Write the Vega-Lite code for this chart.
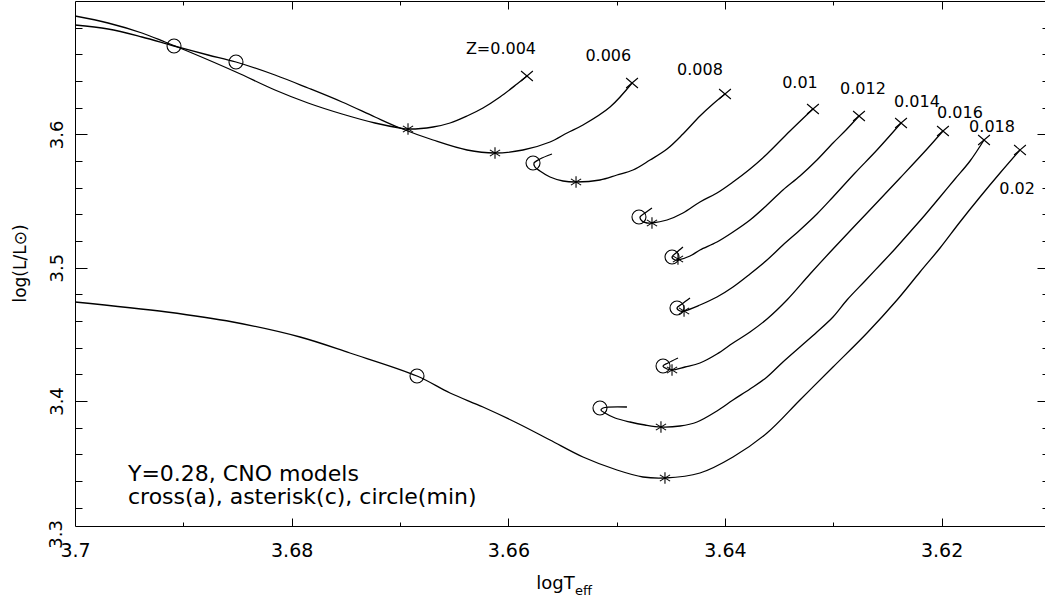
{
  "$schema": "https://vega.github.io/schema/vega-lite/v6.json",
  "width": 970,
  "height": 525,
  "autosize": {"type": "none"},
  "padding": {"left": 75, "top": 1, "right": 0, "bottom": 80},
  "background": "white",
  "config": {
    "view": {"stroke": null},
    "font": "DejaVu Sans",
    "axis": {"grid": false, "domainColor": "black", "tickColor": "black", "labelColor": "black", "titleColor": "black", "labelFont": "DejaVu Sans", "titleFont": "DejaVu Sans"}
  },
  "resolve": {"scale": {"x": "independent", "y": "independent"}, "axis": {"x": "independent", "y": "independent"}},
  "layer": [
    {
      "data": {"values": [
      {"z":"0.004","i":0,"x":3.7,"y":3.68875},{"z":"0.004","i":1,"x":3.69695,"y":3.6835},{"z":"0.004","i":2,"x":3.69382,"y":3.676},{"z":"0.004","i":3,"x":3.69169,"y":3.66925},{"z":"0.004","i":4,"x":3.6892,"y":3.661},{"z":"0.004","i":5,"x":3.68514,"y":3.64675},{"z":"0.004","i":6,"x":3.68154,"y":3.63325},{"z":"0.004","i":7,"x":3.67849,"y":3.6235},{"z":"0.004","i":8,"x":3.67535,"y":3.61525},{"z":"0.004","i":9,"x":3.67231,"y":3.6085},{"z":"0.004","i":10,"x":3.67,"y":3.60475},{"z":"0.004","i":11,"x":3.66926,"y":3.604},{"z":"0.004","i":12,"x":3.66695,"y":3.6055},{"z":"0.004","i":13,"x":3.66538,"y":3.6085},{"z":"0.004","i":14,"x":3.66381,"y":3.61375},{"z":"0.004","i":15,"x":3.66234,"y":3.61975},{"z":"0.004","i":16,"x":3.66077,"y":3.628},{"z":"0.004","i":17,"x":3.6592,"y":3.63775},{"z":"0.004","i":18,"x":3.65828,"y":3.64375},
      {"z":"0.006","i":0,"x":3.7,"y":3.682},{"z":"0.006","i":1,"x":3.69695,"y":3.679},{"z":"0.006","i":2,"x":3.69382,"y":3.673},{"z":"0.006","i":3,"x":3.69086,"y":3.66625},{"z":"0.006","i":4,"x":3.68772,"y":3.6595},{"z":"0.006","i":5,"x":3.68514,"y":3.65425},{"z":"0.006","i":6,"x":3.68154,"y":3.6445},{"z":"0.006","i":7,"x":3.67849,"y":3.63475},{"z":"0.006","i":8,"x":3.67535,"y":3.62425},{"z":"0.006","i":9,"x":3.67231,"y":3.613},{"z":"0.006","i":10,"x":3.67,"y":3.60475},{"z":"0.006","i":11,"x":3.66695,"y":3.59575},{"z":"0.006","i":12,"x":3.66381,"y":3.58825},{"z":"0.006","i":13,"x":3.66123,"y":3.586},{"z":"0.006","i":14,"x":3.65865,"y":3.58825},{"z":"0.006","i":15,"x":3.65615,"y":3.59425},{"z":"0.006","i":16,"x":3.65458,"y":3.601},{"z":"0.006","i":17,"x":3.65311,"y":3.607},{"z":"0.006","i":18,"x":3.65061,"y":3.6205},{"z":"0.006","i":19,"x":3.64858,"y":3.6385},
      {"z":"0.008","i":0,"x":3.65597,"y":3.58525},{"z":"0.008","i":1,"x":3.65708,"y":3.5815},{"z":"0.008","i":2,"x":3.65763,"y":3.5785},{"z":"0.008","i":3,"x":3.65754,"y":3.5755},{"z":"0.008","i":4,"x":3.65708,"y":3.5725},{"z":"0.008","i":5,"x":3.65615,"y":3.568},{"z":"0.008","i":6,"x":3.65495,"y":3.565},{"z":"0.008","i":7,"x":3.65375,"y":3.56425},{"z":"0.008","i":8,"x":3.65154,"y":3.56575},{"z":"0.008","i":9,"x":3.64997,"y":3.5695},{"z":"0.008","i":10,"x":3.64849,"y":3.57325},{"z":"0.008","i":11,"x":3.64692,"y":3.58075},{"z":"0.008","i":12,"x":3.64535,"y":3.589},{"z":"0.008","i":13,"x":3.64388,"y":3.60025},{"z":"0.008","i":14,"x":3.64231,"y":3.61375},{"z":"0.008","i":15,"x":3.64111,"y":3.62275},{"z":"0.008","i":16,"x":3.64,"y":3.63025},
      {"z":"0.01","i":0,"x":3.64674,"y":3.54475},{"z":"0.01","i":1,"x":3.64738,"y":3.541},{"z":"0.01","i":2,"x":3.64784,"y":3.538},{"z":"0.01","i":3,"x":3.64766,"y":3.535},{"z":"0.01","i":4,"x":3.6472,"y":3.5335},{"z":"0.01","i":5,"x":3.64674,"y":3.5335},{"z":"0.01","i":6,"x":3.64535,"y":3.53575},{"z":"0.01","i":7,"x":3.64388,"y":3.541},{"z":"0.01","i":8,"x":3.64231,"y":3.54925},{"z":"0.01","i":9,"x":3.64074,"y":3.556},{"z":"0.01","i":10,"x":3.63926,"y":3.56425},{"z":"0.01","i":11,"x":3.63769,"y":3.574},{"z":"0.01","i":12,"x":3.63612,"y":3.58525},{"z":"0.01","i":13,"x":3.634,"y":3.6025},{"z":"0.01","i":14,"x":3.63188,"y":3.619},
      {"z":"0.012","i":0,"x":3.64388,"y":3.5155},{"z":"0.012","i":1,"x":3.64452,"y":3.511},{"z":"0.012","i":2,"x":3.64489,"y":3.508},{"z":"0.012","i":3,"x":3.64461,"y":3.50575},{"z":"0.012","i":4,"x":3.64434,"y":3.50575},{"z":"0.012","i":5,"x":3.64323,"y":3.50875},{"z":"0.012","i":6,"x":3.64231,"y":3.51325},{"z":"0.012","i":7,"x":3.64074,"y":3.51925},{"z":"0.012","i":8,"x":3.63926,"y":3.52675},{"z":"0.012","i":9,"x":3.63769,"y":3.53575},{"z":"0.012","i":10,"x":3.63612,"y":3.547},{"z":"0.012","i":11,"x":3.63465,"y":3.55825},{"z":"0.012","i":12,"x":3.63308,"y":3.56875},{"z":"0.012","i":13,"x":3.63151,"y":3.58075},{"z":"0.012","i":14,"x":3.63003,"y":3.5935},{"z":"0.012","i":15,"x":3.62883,"y":3.60325},{"z":"0.012","i":16,"x":3.62763,"y":3.61375},
      {"z":"0.014","i":0,"x":3.64323,"y":3.47725},{"z":"0.014","i":1,"x":3.64397,"y":3.47275},{"z":"0.014","i":2,"x":3.64443,"y":3.46975},{"z":"0.014","i":3,"x":3.64415,"y":3.4675},{"z":"0.014","i":4,"x":3.64378,"y":3.4675},{"z":"0.014","i":5,"x":3.64231,"y":3.472},{"z":"0.014","i":6,"x":3.64074,"y":3.478},{"z":"0.014","i":7,"x":3.63926,"y":3.4855},{"z":"0.014","i":8,"x":3.63769,"y":3.49525},{"z":"0.014","i":9,"x":3.63612,"y":3.50575},{"z":"0.014","i":10,"x":3.63465,"y":3.517},{"z":"0.014","i":11,"x":3.63308,"y":3.52825},{"z":"0.014","i":12,"x":3.63151,"y":3.54025},{"z":"0.014","i":13,"x":3.63003,"y":3.553},{"z":"0.014","i":14,"x":3.628,"y":3.571},{"z":"0.014","i":15,"x":3.62597,"y":3.58825},{"z":"0.014","i":16,"x":3.62375,"y":3.6085},
      {"z":"0.016","i":0,"x":3.64434,"y":3.43225},{"z":"0.016","i":1,"x":3.64526,"y":3.4285},{"z":"0.016","i":2,"x":3.64572,"y":3.42625},{"z":"0.016","i":3,"x":3.64535,"y":3.424},{"z":"0.016","i":4,"x":3.64489,"y":3.42325},{"z":"0.016","i":5,"x":3.64369,"y":3.4255},{"z":"0.016","i":6,"x":3.64231,"y":3.4285},{"z":"0.016","i":7,"x":3.64074,"y":3.43525},{"z":"0.016","i":8,"x":3.63926,"y":3.4435},{"z":"0.016","i":9,"x":3.63769,"y":3.45175},{"z":"0.016","i":10,"x":3.63612,"y":3.4615},{"z":"0.016","i":11,"x":3.63428,"y":3.47575},{"z":"0.016","i":12,"x":3.63215,"y":3.49525},{"z":"0.016","i":13,"x":3.63003,"y":3.514},{"z":"0.016","i":14,"x":3.62689,"y":3.541},{"z":"0.016","i":15,"x":3.62384,"y":3.56725},{"z":"0.016","i":16,"x":3.62135,"y":3.589},{"z":"0.016","i":17,"x":3.61988,"y":3.6025},
      {"z":"0.018","i":0,"x":3.64905,"y":3.3955},{"z":"0.018","i":1,"x":3.65126,"y":3.39475},{"z":"0.018","i":2,"x":3.65145,"y":3.39325},{"z":"0.018","i":3,"x":3.65108,"y":3.391},{"z":"0.018","i":4,"x":3.65015,"y":3.38725},{"z":"0.018","i":5,"x":3.64877,"y":3.38425},{"z":"0.018","i":6,"x":3.64738,"y":3.382},{"z":"0.018","i":7,"x":3.64591,"y":3.3805},{"z":"0.018","i":8,"x":3.64415,"y":3.38125},{"z":"0.018","i":9,"x":3.64258,"y":3.38425},{"z":"0.018","i":10,"x":3.64074,"y":3.3925},{"z":"0.018","i":11,"x":3.63926,"y":3.40075},{"z":"0.018","i":12,"x":3.63769,"y":3.409},{"z":"0.018","i":13,"x":3.63612,"y":3.418},{"z":"0.018","i":14,"x":3.63465,"y":3.42925},{"z":"0.018","i":15,"x":3.63308,"y":3.4405},{"z":"0.018","i":16,"x":3.63151,"y":3.45175},{"z":"0.018","i":17,"x":3.63003,"y":3.463},{"z":"0.018","i":18,"x":3.62874,"y":3.47575},{"z":"0.018","i":19,"x":3.62708,"y":3.49},{"z":"0.018","i":20,"x":3.62569,"y":3.502},{"z":"0.018","i":21,"x":3.62431,"y":3.514},{"z":"0.018","i":22,"x":3.62292,"y":3.52675},{"z":"0.018","i":23,"x":3.62154,"y":3.5395},{"z":"0.018","i":24,"x":3.62015,"y":3.553},{"z":"0.018","i":25,"x":3.61877,"y":3.5665},{"z":"0.018","i":26,"x":3.61738,"y":3.58},{"z":"0.018","i":27,"x":3.61609,"y":3.59575},
      {"z":"0.02","i":0,"x":3.7,"y":3.47425},{"z":"0.02","i":1,"x":3.69151,"y":3.46675},{"z":"0.02","i":2,"x":3.68542,"y":3.45925},{"z":"0.02","i":3,"x":3.67923,"y":3.448},{"z":"0.02","i":4,"x":3.67462,"y":3.436},{"z":"0.02","i":5,"x":3.66843,"y":3.41875},{"z":"0.02","i":6,"x":3.66538,"y":3.406},{"z":"0.02","i":7,"x":3.66234,"y":3.3955},{"z":"0.02","i":8,"x":3.6592,"y":3.3835},{"z":"0.02","i":9,"x":3.65615,"y":3.37075},{"z":"0.02","i":10,"x":3.65311,"y":3.358},{"z":"0.02","i":11,"x":3.64997,"y":3.34825},{"z":"0.02","i":12,"x":3.64757,"y":3.343},{"z":"0.02","i":13,"x":3.64554,"y":3.34225},{"z":"0.02","i":14,"x":3.64231,"y":3.346},{"z":"0.02","i":15,"x":3.63926,"y":3.358},{"z":"0.02","i":16,"x":3.63612,"y":3.376},{"z":"0.02","i":17,"x":3.63308,"y":3.40075},{"z":"0.02","i":18,"x":3.63003,"y":3.4255},{"z":"0.02","i":19,"x":3.62689,"y":3.451},{"z":"0.02","i":20,"x":3.62412,"y":3.47575},{"z":"0.02","i":21,"x":3.622,"y":3.49675},{"z":"0.02","i":22,"x":3.62015,"y":3.51475},{"z":"0.02","i":23,"x":3.61831,"y":3.53425},{"z":"0.02","i":24,"x":3.61646,"y":3.553},{"z":"0.02","i":25,"x":3.61461,"y":3.571},{"z":"0.02","i":26,"x":3.61277,"y":3.58825}
      ]},
      "mark": {"type": "line", "color": "black", "strokeWidth": 1.3, "clip": true, "interpolate": "catmull-rom"},
      "encoding": {
        "x": {"field": "x", "type": "quantitative",
          "scale": {"domain": [3.61046, 3.7], "reverse": true, "nice": false, "zero": false},
          "axis": {"orient": "bottom", "values": [3.62, 3.64, 3.66, 3.68, 3.7], "format": "~g", "ticks": false, "tickSize": 0, "domain": true, "labelFontSize": 19, "labelPadding": 15, "labelFlush": false, "labelOverlap": false,
            "title": "logT", "titleFontSize": 18, "titleFontWeight": "normal", "titleX": 480, "titleY": 62, "titleBaseline": "alphabetic", "titleAlign": "center"}},
        "y": {"field": "y", "type": "quantitative",
          "scale": {"domain": [3.30625, 3.7], "nice": false, "zero": false},
          "axis": {"orient": "left", "values": [3.4, 3.5, 3.6], "format": "~g", "ticks": false, "tickSize": 0, "domain": true, "labelFontSize": 18, "labelAngle": 270, "labelAlign": "center", "labelBaseline": "alphabetic", "labelPadding": 13, "labelFlush": false, "labelOverlap": false,
            "title": "log(L/L⊙)", "titleFontSize": 17, "titleFontWeight": "normal", "titleAngle": 270, "titleX": -55, "titleY": 262, "titleBaseline": "middle", "titleAlign": "center"}},
        "detail": {"field": "z"},
        "order": {"field": "i", "type": "quantitative"}
      }
    },
    {
      "data": {"values": [
        {"x":3.69086,"y":3.66625},{"x":3.68514,"y":3.65425},{"x":3.65772,"y":3.5785},{"x":3.64794,"y":3.538},{"x":3.64489,"y":3.508},{"x":3.64443,"y":3.46975},{"x":3.64572,"y":3.42625},{"x":3.65154,"y":3.39475},{"x":3.66843,"y":3.41875}
      ]},
      "mark": {"type": "point", "shape": "circle", "size": 196, "filled": false, "stroke": "black", "strokeWidth": 1.1, "opacity": 1},
      "encoding": {
        "x": {"field": "x", "type": "quantitative", "scale": {"domain": [3.61046, 3.7], "reverse": true, "nice": false, "zero": false},
          "axis": {"orient": "bottom", "values": [3.62, 3.64, 3.66, 3.68], "labels": false, "domain": false, "ticks": true, "tickSize": -8, "tickColor": "black", "title": null}},
        "y": {"field": "y", "type": "quantitative", "scale": {"domain": [3.30625, 3.7], "nice": false, "zero": false},
          "axis": {"orient": "left", "values": [3.4, 3.5, 3.6], "labels": false, "domain": false, "ticks": true, "tickSize": -12, "tickColor": "black", "title": null}}
      }
    },
    {
      "data": {"values": [
        {"x":3.65828,"y":3.64375},{"x":3.64858,"y":3.6385},{"x":3.64,"y":3.63025},{"x":3.63188,"y":3.619},{"x":3.62763,"y":3.61375},{"x":3.62375,"y":3.6085},{"x":3.61988,"y":3.6025},{"x":3.61609,"y":3.59575},{"x":3.61277,"y":3.58825}
      ]},
      "mark": {"type": "point", "shape": "M-1,-0.85L1,0.85M-1,0.85L1,-0.85", "size": 140, "filled": false, "stroke": "black", "strokeWidth": 1.1, "opacity": 1},
      "encoding": {
        "x": {"field": "x", "type": "quantitative", "scale": {"domain": [3.61046, 3.7], "reverse": true, "nice": false, "zero": false},
          "axis": {"orient": "bottom", "values": [3.63, 3.65, 3.67, 3.69], "labels": false, "domain": false, "ticks": true, "tickSize": -4, "tickColor": "black", "title": null}},
        "y": {"field": "y", "type": "quantitative", "scale": {"domain": [3.30625, 3.7], "nice": false, "zero": false},
          "axis": {"orient": "left", "values": [3.32, 3.34, 3.36, 3.38, 3.42, 3.44, 3.46, 3.48, 3.52, 3.54, 3.56, 3.58, 3.62, 3.64, 3.66, 3.68], "labels": false, "domain": false, "ticks": true, "tickSize": -7, "tickColor": "black", "title": null}}
      }
    },
    {
      "data": {"values": [
        {"x":3.66926,"y":3.604},{"x":3.66123,"y":3.586},{"x":3.65375,"y":3.56425},{"x":3.64674,"y":3.5335},{"x":3.64434,"y":3.5065},{"x":3.64378,"y":3.4675},{"x":3.64489,"y":3.42325},{"x":3.64591,"y":3.3805},{"x":3.64554,"y":3.34225}
      ]},
      "mark": {"type": "point", "shape": "M0,-1L0,1M-0.9,-0.55L0.9,0.55M-0.9,0.55L0.9,-0.55", "size": 130, "filled": false, "stroke": "black", "strokeWidth": 1.1, "opacity": 1},
      "encoding": {
        "x": {"field": "x", "type": "quantitative", "scale": {"domain": [3.61046, 3.7], "reverse": true, "nice": false, "zero": false},
          "axis": {"orient": "top", "values": [3.62, 3.64, 3.66, 3.68], "labels": false, "domain": true, "domainColor": "black", "ticks": true, "tickSize": -8, "tickColor": "black", "title": null}},
        "y": {"field": "y", "type": "quantitative", "scale": {"domain": [3.30625, 3.7], "nice": false, "zero": false},
          "axis": {"orient": "right", "values": [3.4, 3.5, 3.6], "labels": false, "domain": false, "ticks": true, "tickSize": -8, "tickColor": "black", "title": null}}
      }
    },
    {
      "data": {"values": [
        {"label":"Z=0.004","x":3.66068,"y":3.664},
        {"label":"0.006","x":3.65077,"y":3.65875},
        {"label":"0.008","x":3.64231,"y":3.64825},
        {"label":"0.01","x":3.63308,"y":3.6385},
        {"label":"0.012","x":3.62726,"y":3.634},
        {"label":"0.014","x":3.62228,"y":3.62425},
        {"label":"0.016","x":3.61831,"y":3.616},
        {"label":"0.018","x":3.61535,"y":3.6055},
        {"label":"0.02","x":3.61304,"y":3.559}
      ]},
      "mark": {"type": "text", "fontSize": 16, "align": "center", "baseline": "middle", "color": "black", "font": "DejaVu Sans"},
      "encoding": {
        "x": {"field": "x", "type": "quantitative", "scale": {"domain": [3.61046, 3.7], "reverse": true, "nice": false, "zero": false},
          "axis": {"orient": "top", "values": [3.63, 3.65, 3.67, 3.69], "labels": false, "domain": false, "ticks": true, "tickSize": -4, "tickColor": "black", "title": null}},
        "y": {"field": "y", "type": "quantitative", "scale": {"domain": [3.30625, 3.7], "nice": false, "zero": false},
          "axis": {"orient": "right", "values": [3.32, 3.34, 3.36, 3.38, 3.42, 3.44, 3.46, 3.48, 3.52, 3.54, 3.56, 3.58, 3.62, 3.64, 3.66, 3.68], "labels": false, "domain": false, "ticks": true, "tickSize": -3, "tickColor": "black", "title": null}},
        "text": {"field": "label"}
      }
    },
    {
      "data": {"values": [{"note": "annotation"}]},
      "mark": {"type": "text", "text": ["Y=0.28, CNO models", "cross(a), asterisk(c), circle(min)"], "lineHeight": 23, "fontSize": 22, "align": "left", "baseline": "alphabetic", "color": "black", "font": "DejaVu Sans"},
      "encoding": {
        "x": {"datum": 3.69511, "type": "quantitative", "scale": {"domain": [3.61046, 3.7], "reverse": true, "nice": false, "zero": false}, "axis": null},
        "y": {"datum": 3.34, "type": "quantitative", "scale": {"domain": [3.30625, 3.7], "nice": false, "zero": false}, "axis": null}
      }
    },
    {
      "data": {"values": [{"note": "subscript"}]},
      "mark": {"type": "text", "text": "eff", "fontSize": 13, "align": "left", "baseline": "alphabetic", "color": "black", "font": "DejaVu Sans", "clip": false},
      "encoding": {
        "x": {"datum": 3.65385, "type": "quantitative", "scale": {"domain": [3.61046, 3.7], "reverse": true, "nice": false, "zero": false}, "axis": null},
        "y": {"datum": 3.2545, "type": "quantitative", "scale": {"domain": [3.30625, 3.7], "nice": false, "zero": false}, "axis": null}
      }
    },
    {
      "data": {"values": [{"note": "corner label"}]},
      "mark": {"type": "text", "text": "3.3", "fontSize": 18, "angle": 270, "dy": -13, "align": "center", "baseline": "alphabetic", "color": "black", "font": "DejaVu Sans", "clip": false},
      "encoding": {
        "x": {"datum": 3.7, "type": "quantitative", "scale": {"domain": [3.61046, 3.7], "reverse": true, "nice": false, "zero": false}, "axis": null},
        "y": {"datum": 3.3, "type": "quantitative", "scale": {"domain": [3.30625, 3.7], "nice": false, "zero": false}, "axis": null}
      }
    }
  ]
}
